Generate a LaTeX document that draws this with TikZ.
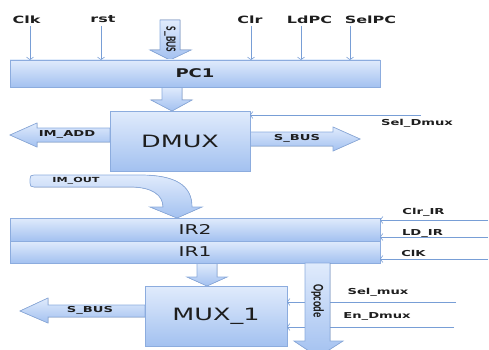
\documentclass[tikz,border=0pt]{standalone}
\usepackage{fontspec}
\setmainfont{DejaVu Sans}
\newfontfamily\labf[FakeStretch=1.6]{DejaVu Sans}
\newfontfamily\bigf[FakeStretch=1.5]{DejaVu Sans}
\newfontfamily\rotf{Carlito}
\usetikzlibrary{arrows.meta}
\definecolor{ltop}{RGB}{224,235,252}
\definecolor{lbot}{RGB}{163,193,240}
\definecolor{bord}{RGB}{140,172,222}
\definecolor{sigc}{RGB}{120,158,214}
\definecolor{txt}{RGB}{30,30,30}
\begin{document}
\begin{tikzpicture}[x=1pt,y=-1pt,
  box/.style={draw=bord,line width=0.9pt,top color=ltop,bottom color=lbot,inner sep=0pt,outer sep=0pt,text=txt},
  blk/.style={draw=bord,line width=0.7pt,top color=ltop,bottom color=lbot},
  lab/.style={font=\labf\bfseries\fontsize{8.2}{9}\selectfont,text=txt,inner sep=0pt},
  toplab/.style={font=\labf\bfseries\fontsize{10}{11}\selectfont,text=txt,inner sep=0pt},
  rlab/.style={font=\rotf\bfseries\fontsize{#1}{#1}\selectfont,text=txt,inner sep=0pt,rotate=-90},
  sig/.style={draw=sigc,line width=0.6pt,-{Straight Barb[length=2.5pt,width=7pt]}}]
\useasboundingbox (0,0) rectangle (489,350);

% ---- labels
\node[toplab] (lclk) at (26.5,19.5) {Clk};
\node[toplab] (lrst) at (103,19.5) {rst};
\node[toplab] (lclr) at (250,19.5) {Clr};
\node[toplab] (lldpc) at (309.5,19.5) {LdPC};
\node[toplab] (lselpc) at (370.5,19.5) {SelPC};
\node[lab] (lseld) at (417,123.5) {Sel\_Dmux};
\node[lab] (lclrir) at (423.5,212) {Clr\_IR};
\node[lab] (lldir) at (422.5,233) {LD\_IR};
\node[lab] (lclkir) at (413.5,253.5) {ClK};
\node[lab] (lselm) at (378,292.5) {Sel\_mux};
\node[lab] (lend) at (377,316) {En\_Dmux};

% ---- signal start points
\coordinate (sclk) at (30,26);
\coordinate (srst) at (101,26);
\coordinate (sclr) at (251,26);
\coordinate (sldpc) at (301,26);
\coordinate (sselpc) at (350,26);
\coordinate (sseld) at (421,115);
\coordinate (sclrir) at (488,220);
\coordinate (sldir) at (488,237);
\coordinate (sclkir) at (488,259);
\coordinate (sselm) at (456,302);
\coordinate (send) at (454,327);

% ---- box centres
\path (195,73.5) coordinate (pc1c) (180,141) coordinate (dmuxc)
      (195,229.5) coordinate (ir2c) (195,252) coordinate (ir1c) (216,316) coordinate (muxc);

% ---- block arrows
\filldraw[blk] (160,20) -- (180,20) -- (180,50) -- (191,50) -- (170,60) -- (150,50) -- (160,50) -- cycle;
\node[rlab=9.5] (tsbus) at (170,39.5) {\scalebox{1}[1.5]{S\_BUS}};
\filldraw[blk] (162,87) -- (182,87) -- (182,100) -- (192,100) -- (172,111) -- (151,100) -- (162,100) -- cycle;
\filldraw[blk] (110,128) -- (37,128) -- (37,123) -- (10,135) -- (37,147) -- (37,142) -- (110,142) -- cycle;
\node[lab] (limadd) at (67,134.5) {IM\_ADD};
\filldraw[blk] (250,132) -- (333,132) -- (333,127) -- (360,139) -- (333,151) -- (333,146) -- (250,146) -- cycle;
\node[lab] (lsbus1) at (297,138.5) {S\_BUS};
\filldraw[blk] (34,175) -- (140,175) .. controls (175,175) and (192,185) .. (192,207)
  -- (202,207) -- (177,218) -- (150,207) -- (163,207)
  .. controls (163,195) and (152,187) .. (130,187) -- (34,187)
  .. controls (31,187) and (30,186) .. (30,183) -- (30,179) .. controls (30,176) and (31,175) .. (34,175) -- cycle;
\node[lab,font=\labf\bfseries\fontsize{7}{8}\selectfont] (limout) at (76,181) {IM\_OUT};
\filldraw[blk] (197,263) -- (217,263) -- (217,277) -- (227,277) -- (207,286) -- (187,277) -- (197,277) -- cycle;
\filldraw[blk] (145,305) -- (48,305) -- (48,298) -- (20,311) -- (48,323) -- (48,317) -- (145,317) -- cycle;
\node[lab] (lsbus2) at (90,310.5) {S\_BUS};

% ---- boxes
\node[box,minimum width=370pt,minimum height=27pt,font=\bigf\bfseries\fontsize{12}{12}\selectfont] (pc1) at (pc1c) {PC1};
\node[box,minimum width=140pt,minimum height=60pt,font=\bigf\fontsize{17}{17}\selectfont] (dmux) at (dmuxc) {DMUX};
\node[box,minimum width=370pt,minimum height=23pt,font=\bigf\fontsize{13.5}{13.5}\selectfont] (ir2) at (ir2c) {IR2};
\node[box,minimum width=370pt,minimum height=22pt,font=\bigf\fontsize{13.5}{13.5}\selectfont] (ir1) at (ir1c) {IR1};
\node[box,minimum width=142pt,minimum height=60pt,font=\bigf\fontsize{17}{17}\selectfont] (mux) at (muxc) {MUX\_1};

% ---- signal lines
\draw[sig] (sclk) -- (sclk |- pc1.north);
\draw[sig] (srst) -- (srst |- pc1.north);
\draw[sig] (sclr) -- (sclr |- pc1.north);
\draw[sig] (sldpc) -- (sldpc |- pc1.north);
\draw[sig] (sselpc) -- (sselpc |- pc1.north);
\draw[sig] (sseld) -- (sseld -| dmux.east);
\draw[sig] (sclrir) -- (sclrir -| ir2.east);
\draw[sig] (sldir) -- (sldir -| ir2.east);
\draw[sig] (sclkir) -- (sclkir -| ir1.east);
\draw[sig] (sselm) -- (sselm -| mux.east);
\draw[sig] (send) -- (send -| mux.east);

% ---- opcode arrow (over the lines)
\begin{scope}
\clip (0,0) rectangle (489,350);
\filldraw[blk] (305,263) -- (330,263) -- (330,341) -- (343,341) -- (318,357) -- (294,341) -- (305,341) -- cycle;
\end{scope}
\node[rlab=10.5] (topc) at (317.5,301) {\scalebox{1}[1.4]{Opcode}};
\end{tikzpicture}
\end{document}
